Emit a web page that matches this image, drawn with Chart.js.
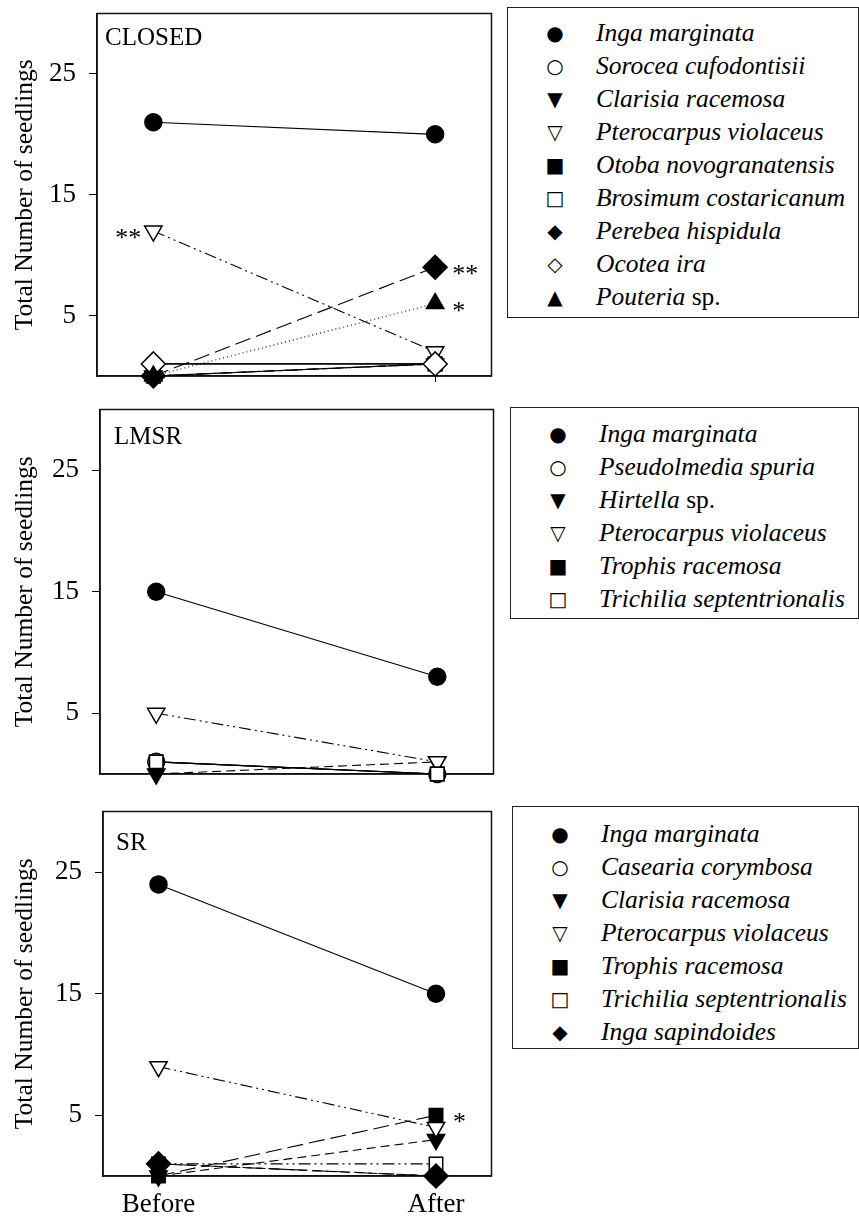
<!DOCTYPE html>
<html>
<head>
<meta charset="utf-8">
<script src="https://cdn.jsdelivr.net/npm/chart.js@4/dist/chart.umd.min.js"></script>
<style>
    body { margin: 0; background: #fff; width: 859px; height: 1220px; position: relative; overflow: hidden; font-family: "Liberation Serif", serif; }
    canvas { position: absolute; left: 0; }
    .legende { position: absolute; border: 1.5px solid #222; box-sizing: border-box; background: #fff; }
    .ligne { height: 33px; display: flex; align-items: center; font-size: 25.5px; color: #000; white-space: nowrap; }
    .ligne .sym { width: 44px; margin-left: 25px; text-align: center; font-family: "DejaVu Sans", sans-serif; font-size: 20px; }
    .ligne .nom { margin-left: 19px; }
    .ligne i { font-style: italic; }
</style>
</head>
<body>

<canvas id="closed"></canvas>
<canvas id="lmsr"></canvas>
<canvas id="sr"></canvas>
<div id="legClosed" class="legende"></div>
<div id="legLmsr" class="legende"></div>
<div id="legSr" class="legende"></div>

<script>
// ==========================================
// DONNÉES
// ==========================================

const categories = ["Before", "After"];
const yTicks = [5, 15, 25];
const yTitre = "Total Number of seedlings";

// CLOSED
const closedSpecies = ["Inga marginata", "Sorocea cufodontisii", "Clarisia racemosa", "Pterocarpus violaceus",
    "Otoba novogranatensis", "Brosimum costaricanum", "Perebea hispidula", "Ocotea ira", "Pouteria sp."];
const closedBefore = [21, 1, 0, 12, 0, 0, 0, 1, 0];
const closedAfter = [20, 1, 1, 2, 1, 1, 9, 1, 6];
const closedLines = ["solid", "solid", "dash", "dashdotdot", "dashdot", "solid", "longdash", "solid", "dot"];
const closedStarsBefore = ["", "", "", "**", "", "", "", "", ""];
const closedStarsAfter = ["", "", "", "", "", "", "**", "", "*"];

// LMSR
const lmsrSpecies = ["Inga marginata", "Pseudolmedia spuria", "Hirtella sp.", "Pterocarpus violaceus",
    "Trophis racemosa", "Trichilia septentrionalis"];
const lmsrBefore = [15, 1, 0, 5, 1, 1];
const lmsrAfter = [8, 0, 1, 1, 0, 0];
const lmsrLines = ["solid", "solid", "dash", "dashdotdot", "solid", "solid"];
const lmsrStarsBefore = ["", "", "", "", "", ""];
const lmsrStarsAfter = ["", "", "", "", "", ""];

// SR
const srSpecies = ["Inga marginata", "Casearia corymbosa", "Clarisia racemosa", "Pterocarpus violaceus",
    "Trophis racemosa", "Trichilia septentrionalis", "Inga sapindoides"];
const srBefore = [24, 1, 0, 9, 0, 1, 1];
const srAfter = [15, 0, 3, 4, 5, 1, 0];
const srLines = ["solid", "longdash", "dash", "dashdotdot", "longdash", "dashdotdot", "dash"];
const srStarsBefore = ["", "", "", "", "", "", ""];
const srStarsAfter = ["", "", "", "", "*", "", ""];

// ==========================================
// STYLES
// ==========================================

// même suite de symboles dans chaque légende
const symboles = [
    { style: "circle", rot: 0, r: 8.5, plein: true, car: "●" },
    { style: "circle", rot: 0, r: 8.5, plein: false, car: "○" },
    { style: "triangle", rot: 180, r: 10, plein: true, car: "▼" },
    { style: "triangle", rot: 180, r: 10, plein: false, car: "▽" },
    { style: "rect", rot: 0, r: 9.5, plein: true, car: "■" },
    { style: "rect", rot: 0, r: 9.5, plein: false, car: "□" },
    { style: "rectRot", rot: 0, r: 12, plein: true, car: "◆" },
    { style: "rectRot", rot: 0, r: 12, plein: false, car: "◇" },
    { style: "triangle", rot: 0, r: 10, plein: true, car: "▲" }
];

const tirets = {
    solid: [],
    dash: [9, 5],
    longdash: [16, 6],
    dashdot: [12, 4, 2, 4],
    dashdotdot: [12, 4, 2, 4, 2, 4],
    dot: [1, 3]
};

const police = "Liberation Serif";

// cadre, titre du panneau et astérisques
const cadre = {
    id: "cadre",
    beforeDatasetsDraw(chart, args, opts) {
        const { ctx, chartArea: a } = chart;
        ctx.save();
        ctx.strokeStyle = "#111";
        ctx.lineWidth = 1.5;
        ctx.strokeRect(a.left, a.top, a.right - a.left, a.bottom - a.top);
        ctx.fillStyle = "#000";
        ctx.font = "25px '" + police + "'";
        ctx.textBaseline = "middle";
        ctx.fillText(opts.titre, a.left + opts.tx, a.top + opts.ty);
        ctx.restore();
    },
    afterDatasetsDraw(chart, args, opts) {
        const { ctx, scales } = chart;
        ctx.save();
        ctx.fillStyle = "#000";
        ctx.font = "26px '" + police + "'";
        ctx.textBaseline = "alphabetic";
        opts.avant.forEach((txt, i) => {
            if (!txt) return;
            ctx.textAlign = "right";
            ctx.fillText(txt, scales.x.getPixelForValue(0) - 12, scales.y.getPixelForValue(opts.before[i]) + 15);
        });
        opts.apres.forEach((txt, i) => {
            if (!txt) return;
            ctx.textAlign = "left";
            ctx.fillText(txt, scales.x.getPixelForValue(1) + 17, scales.y.getPixelForValue(opts.after[i]) + 15);
        });
        ctx.restore();
    }
};

// ==========================================
// PANNEAUX
// ==========================================

function panneau(id, p) {

    const canvas = document.getElementById(id);
    canvas.width = 505;
    canvas.height = p.hauteur;
    canvas.style.top = p.haut + "px";

    const datasets = p.species.map((nom, i) => {
        const s = symboles[i];
        return {
            label: nom,
            data: [{ x: 0, y: p.before[i] }, { x: 1, y: p.after[i] }],
            borderColor: "#000",
            borderWidth: 1.1,
            borderDash: tirets[p.lines[i]],
            pointStyle: s.style,
            pointRotation: s.rot,
            pointRadius: s.r,
            pointBackgroundColor: s.plein ? "#000" : "#fff",
            pointBorderColor: "#000",
            pointBorderWidth: 1.5,
            order: -i,
            clip: false
        };
    });

    new Chart(canvas, {
        type: "line",
        data: { datasets: datasets },
        options: {
            responsive: false,
            animation: false,
            layout: { padding: { left: 0, top: p.zone[1] - p.haut, right: 505 - p.zone[2], bottom: 0 } },
            plugins: {
                legend: { display: false },
                tooltip: { enabled: false },
                cadre: {
                    titre: p.titre, tx: p.tx, ty: p.ty,
                    avant: p.starsBefore, apres: p.starsAfter,
                    before: p.before, after: p.after
                }
            },
            scales: {
                x: {
                    type: "linear",
                    min: -0.2,
                    max: 1.2,
                    afterBuildTicks: s => { s.ticks = categories.map((c, i) => ({ value: i })); },
                    afterFit: s => {
                        s.height = p.haut + p.hauteur - p.zone[3];
                        s.paddingLeft = 0;
                        s.paddingRight = 0;
                    },
                    grid: { display: true, drawOnChartArea: false, drawTicks: true, tickLength: 6, color: "#000" },
                    border: { display: true, color: "#111", width: 1.5 },
                    ticks: {
                        display: p.labelsX,
                        padding: 7,
                        color: "#000",
                        font: { family: police, size: 27 },
                        callback: v => categories[v]
                    }
                },
                y: {
                    min: 0,
                    max: 30,
                    afterBuildTicks: s => { s.ticks = yTicks.map(v => ({ value: v })); },
                    afterFit: s => {
                        s.width = p.zone[0];
                        s.paddingTop = 0;
                        s.paddingBottom = 0;
                    },
                    grid: { display: true, drawOnChartArea: false, drawTicks: true, tickLength: 8, color: "#000" },
                    border: { display: true, color: "#111", width: 1.5 },
                    ticks: { padding: 13, color: "#000", font: { family: police, size: 27 } },
                    title: {
                        display: true,
                        text: yTitre,
                        color: "#000",
                        font: { family: police, size: 25.5, lineHeight: 1.2 },
                        padding: { top: 10, bottom: 0 }
                    }
                }
            }
        },
        plugins: [cadre]
    });

    // légende
    const leg = document.getElementById(p.legende);
    leg.style.left = p.leg[0] + "px";
    leg.style.top = p.leg[1] + "px";
    leg.style.width = (859 - p.leg[0]) + "px";
    leg.style.height = p.leg[2] + "px";
    leg.style.paddingTop = p.leg[3] + "px";
    let html = "";
    p.species.forEach((nom, i) => {
        const txt = nom.endsWith(" sp.") ? "<i>" + nom.slice(0, -4) + "</i> sp." : "<i>" + nom + "</i>";
        html += `<div class="ligne"><span class="sym">${symboles[i].car}</span><span class="nom">${txt}</span></div>`;
    });
    leg.innerHTML = html;
}

panneau("closed", {
    titre: "CLOSED", tx: 8, ty: 25,
    species: closedSpecies, before: closedBefore, after: closedAfter, lines: closedLines,
    starsBefore: closedStarsBefore, starsAfter: closedStarsAfter,
    haut: 0, hauteur: 396, zone: [97, 8, 497, 376], labelsX: false,
    legende: "legClosed", leg: [507, 7, 311, 8]
});

panneau("lmsr", {
    titre: "LMSR", tx: 14, ty: 28,
    species: lmsrSpecies, before: lmsrBefore, after: lmsrAfter, lines: lmsrLines,
    starsBefore: lmsrStarsBefore, starsAfter: lmsrStarsAfter,
    haut: 398, hauteur: 396, zone: [100, 407, 496, 774], labelsX: false,
    legende: "legLmsr", leg: [510, 407, 212, 9]
});

panneau("sr", {
    titre: "SR", tx: 13, ty: 32,
    species: srSpecies, before: srBefore, after: srAfter, lines: srLines,
    starsBefore: srStarsBefore, starsAfter: srStarsAfter,
    haut: 798, hauteur: 422, zone: [103, 808, 500, 1176], labelsX: true,
    legende: "legSr", leg: [512, 806, 243, 10]
});
</script>
</body>
</html>
